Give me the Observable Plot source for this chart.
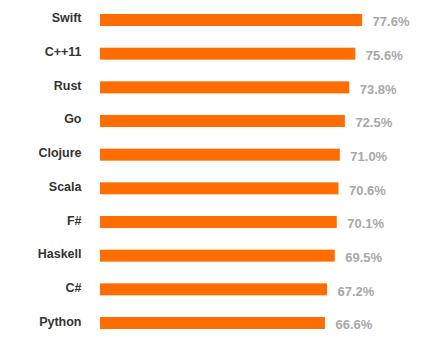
<!DOCTYPE html>
<html>
<head>
<meta charset="utf-8">
<script src="https://cdn.jsdelivr.net/npm/d3@7"></script>
<script src="https://cdn.jsdelivr.net/npm/@observablehq/plot@0.6"></script>
<style>
  html, body { margin: 0; padding: 0; background: #fff; }
  #chart svg { display: block; }
</style>
</head>
<body>
<div id="chart"></div>
<script>
const languages = ["Swift", "C++11", "Rust", "Go", "Clojure", "Scala", "F#", "Haskell", "C#", "Python"];
const values = [77.6, 75.6, 73.8, 72.5, 71.0, 70.6, 70.1, 69.5, 67.2, 66.6];
const data = languages.map((name, i) => ({name, value: values[i]}));

const chart = Plot.plot({
  width: 431,
  height: 351,
  marginLeft: 100,
  marginRight: 27,
  marginTop: 0,
  marginBottom: 8,
  style: {fontFamily: "Liberation Sans, Arial, Helvetica, sans-serif", background: "#fff"},
  x: {domain: [0, 90], axis: null},
  y: {domain: languages, paddingInner: 0.644, paddingOuter: 0.416, round: false, label: null},
  marks: [
    Plot.barX(data, {y: "name", x: "value", fill: "#ff6c00"}),
    Plot.axisY({tickSize: 0, tickPadding: 19, fontSize: 12.5, fontWeight: "bold", fill: "#333", dy: -2, label: null}),
    Plot.text(data, {
      y: "name", x: "value",
      text: d => d.value.toFixed(1) + "%",
      textAnchor: "start", dx: 10, dy: 1.5,
      fontSize: 13, fontWeight: "bold", fill: "#a8a8a8"
    })
  ]
});
document.getElementById("chart").appendChild(chart);
</script>
</body>
</html>
